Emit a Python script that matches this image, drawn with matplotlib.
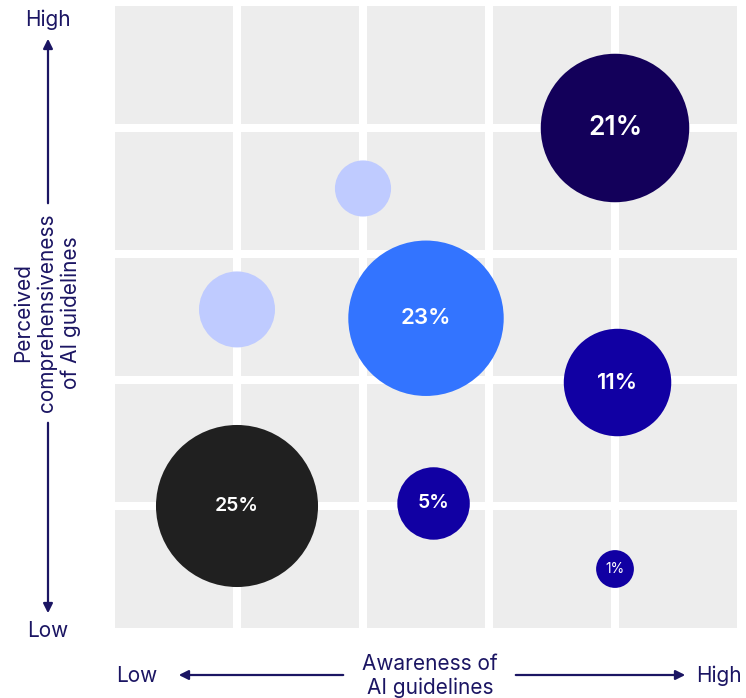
import numpy as np
import matplotlib.pyplot as plt
from matplotlib.patches import Circle, Rectangle, FancyArrowPatch

# bubble data: awareness (x), perceived comprehensiveness (y), share (%)
awareness = [4.0, 2.0, 1.0, 2.5, 4.02, 1.0, 2.56, 4.0]
comprehension = [4.0, 3.52, 2.56, 2.49, 1.98, 1.0, 1.02, 0.5]
shares = [21, 3, 5.5, 23, 11, 25, 5, 1]
labels = ['21%', '', '', '23%', '11%', '25%', '5%', '1%']
colors = ['#13005a', '#bfcbff', '#bfcbff', '#3374ff', '#1100a3', '#202020', '#1100a3', '#1100a3']
label_sizes = [19, 0, 0, 16, 16, 14, 14, 10]
label_weights = ['semibold', 'normal', 'normal', 'semibold', 'semibold', 'semibold', 'semibold', 'normal']

NAVY = '#1b1563'
W, H = 746, 698

plt.rcParams['font.family'] = ['Inter', 'DejaVu Sans']

fig = plt.figure(figsize=(W / 100, H / 100), dpi=100)
ax = fig.add_axes([111 / W, (H - 632) / H, 630 / W, 630 / H])
ax.set_xlim(0, 5)
ax.set_ylim(0, 5)
ax.set_aspect('equal')
ax.axis('off')

# grey cells with white gaps
gap = 8 / 126
for i in range(5):
    for j in range(5):
        ax.add_patch(Rectangle((i + gap / 2, j + gap / 2), 1 - gap, 1 - gap,
                               color='#ededed', lw=0, zorder=1))

# bubbles, area ~ share
for x, y, s, lab, c, fs, fw in zip(awareness, comprehension, shares, labels,
                                   colors, label_sizes, label_weights):
    r = max(np.sqrt(s) * 0.1286, 0.15)
    ax.add_patch(Circle((x, y), r, color=c, lw=0, zorder=3))
    if lab:
        ax.text(x, y, lab, color='white', fontsize=fs, fontweight=fw,
                ha='center', va='center', zorder=4)


def fx(px):
    return px / W


def fy(py):
    return 1 - py / H


def arrow(x0, y0, x1, y1):
    fig.patches.append(FancyArrowPatch((fx(x0), fy(y0)), (fx(x1), fy(y1)),
                                       transform=fig.transFigure,
                                       arrowstyle='-|>', mutation_scale=14,
                                       color=NAVY, lw=1.6))


# vertical axis
fig.text(fx(48), fy(20), 'High', color=NAVY, fontsize=15, ha='center', va='center')
fig.text(fx(48), fy(631), 'Low', color=NAVY, fontsize=15, ha='center', va='center')
arrow(48, 206, 48, 36)
arrow(48, 420, 48, 616)
fig.text(fx(47), fy(313), 'Perceived\ncomprehensiveness\nof AI guidelines',
         color=NAVY, fontsize=15, rotation=90, ha='center', va='center',
         linespacing=1.2, multialignment='center')

# horizontal axis
fig.text(fx(137), fy(676), 'Low', color=NAVY, fontsize=15, ha='center', va='center')
fig.text(fx(719), fy(676), 'High', color=NAVY, fontsize=15, ha='center', va='center')
arrow(346, 675, 176, 675)
arrow(513, 675, 688, 675)
fig.text(fx(430), fy(676), 'Awareness of\nAI guidelines', color=NAVY,
         fontsize=15, ha='center', va='center', linespacing=1.2)

fig.savefig('out.png', dpi=100)
